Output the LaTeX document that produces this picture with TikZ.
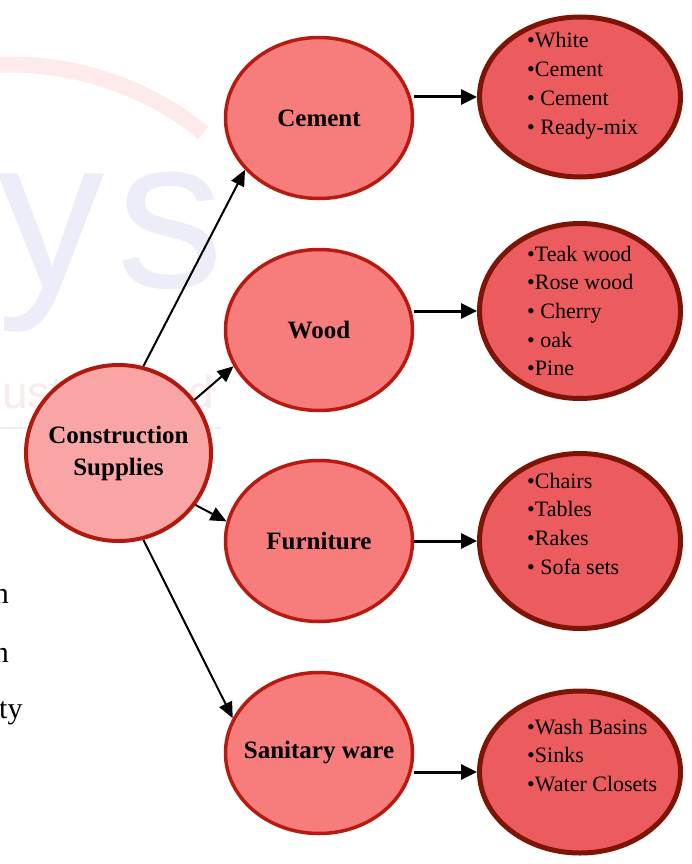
\documentclass[tikz,border=0pt]{standalone}
\usepackage{fontspec}
\setmainfont{Liberation Serif}
\newfontfamily\wmfont{Liberation Sans}
\usetikzlibrary{arrows.meta,shapes.geometric}
\definecolor{csfill}{HTML}{F9A5A6}
\definecolor{csline}{HTML}{B2190E}
\definecolor{midfill}{HTML}{F77C7C}
\definecolor{midline}{HTML}{B81A10}
\definecolor{listfill}{HTML}{EC5B5E}
\definecolor{listline}{HTML}{7E1405}
\definecolor{wmblue}{HTML}{ECEDF8}
\definecolor{wmred}{HTML}{FDEBEB}
\definecolor{wmtext}{HTML}{F7EBEC}
\tikzset{
  catnode/.style={ellipse, draw=midline, fill=midfill, line width=3.5pt,
    minimum width=187pt, minimum height=161pt, inner ysep=0pt, inner xsep=-30pt,
    font=\fontsize{25}{30}\selectfont\bfseries},
  rootnode/.style={ellipse, draw=csline, fill=csfill, line width=4pt,
    minimum width=185pt, minimum height=176pt, inner ysep=0pt, inner xsep=-25pt, align=center,
    font=\fontsize{25}{32}\selectfont\bfseries},
  listnode/.style={ellipse, draw=listline, fill=listfill, line width=5pt,
    minimum width=201pt, inner sep=0pt},
  listtext/.style={anchor=base west, inner sep=0pt, font=\fontsize{22}{28.7}\selectfont},
  arr/.style={-{Triangle[length=16pt,width=14pt]}, line width=2pt},
  harr/.style={-{Triangle[length=16pt,width=15pt]}, line width=3pt},
  frag/.style={inner sep=0pt, font=\fontsize{30}{30}\selectfont},
  wmletter/.style={anchor=base west, inner sep=0pt, text=wmblue, font=\wmfont\fontsize{215}{215}\selectfont},
  wmword/.style={anchor=base west, inner sep=0pt, text=wmtext, font=\wmfont\fontsize{46}{46}\selectfont},
}
\begin{document}
\begin{tikzpicture}[x=1pt,y=-1pt]
\useasboundingbox (0,0) rectangle (691,864);
\clip (0,0) rectangle (691,864);
\fill[white] (0,0) rectangle (691,864);
% faint background watermark
\draw[wmred, line width=16pt] (-5,65) .. controls (80,60) and (160,95) .. (203,133);
\node[wmletter] (wmy) at (-3,287) {y};
\node[wmletter] (wms) at (116,287) {s};
\node[wmword] (wm2) at (2,408) {ust};
\node[wmword] (wm3) at (188,408) {d};
\draw[black!6, line width=1.5pt] (0,428) -- (222,428);
% text fragments at left edge
\node[frag, anchor=base east] (f1) at (9,603) {n};
\node[frag, anchor=base east] (f2) at (9,662) {n};
\node[frag, anchor=base west] (f3) at (-1,718) {ty};

% nodes
\node[rootnode] (cs) at (118.5,453) {Construction\\Supplies};
\node[catnode] (cem) at (319,118) {Cement};
\node[catnode] (wood) at (319,330) {Wood};
\node[catnode] (furn) at (319,541) {Furniture};
\node[catnode] (san) at (319,753) {Sanitary ware};

\node[listnode, minimum height=160pt] (cl) at (580,97) {};
\node[listnode, minimum height=175pt] (wl) at (580,311) {};
\node[listnode, minimum height=175pt] (fl) at (580,541) {};
\node[listnode, minimum height=162pt] (sl) at (580,772) {};

\node[listtext] (clt) at (527,48) {\begin{tabular}[t]{@{}l@{}}•White\\•Cement\\• Cement\\• Ready-mix\end{tabular}};
\node[listtext] (wlt) at (527,261) {\begin{tabular}[t]{@{}l@{}}•Teak wood\\•Rose wood\\• Cherry\\• oak\\•Pine\end{tabular}};
\node[listtext] (flt) at (527,488) {\begin{tabular}[t]{@{}l@{}}•Chairs\\•Tables\\•Rakes\\• Sofa sets\end{tabular}};
\node[listtext] (slt) at (527,734) {\begin{tabular}[t]{@{}l@{}}•Wash Basins\\•Sinks\\•Water Closets\end{tabular}};

% connectors
\draw[arr] (cs.74.3) -- (cem.215.1);
\draw[arr] (cs.35.4) -- (wood.203.5);
\draw[arr] (cs.-34.9) -- (furn.168.8);
\draw[arr] (cs.-74.6) -- (san.158.1);

\draw[harr] (cem.east |- cl.west) -- (cl.west);
\draw[harr] (wood.east |- wl.west) -- (wl.west);
\draw[harr] (furn.east |- fl.west) -- (fl.west);
\draw[harr] (san.east |- sl.west) -- (sl.west);
\end{tikzpicture}
\end{document}
